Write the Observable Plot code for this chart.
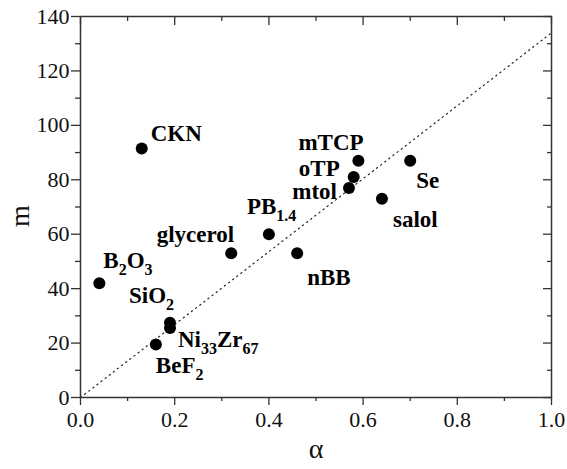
<!DOCTYPE html>
<html>
<head>
<meta charset="utf-8">
<script src="https://cdn.jsdelivr.net/npm/d3@7"></script>
<script src="https://cdn.jsdelivr.net/npm/@observablehq/plot@0.6"></script>
<style>
  html, body { margin: 0; padding: 0; background: #fff; }
  #chart svg { display: block; }
</style>
</head>
<body>
<div id="chart"></div>
<script>
// Data
const names = ["CKN", "B{2}O{3}", "SiO{2}", "Ni{33}Zr{67}", "BeF{2}", "glycerol", "PB{1.4}", "nBB", "mtol", "oTP", "mTCP", "Se", "salol"];
const alpha = [0.13, 0.04, 0.19, 0.19, 0.16, 0.32, 0.40, 0.46, 0.57, 0.58, 0.59, 0.70, 0.64];
const mVals = [91.5, 42, 27.5, 25.5, 19.5, 53, 60, 53, 77, 81, 87, 87, 73];
const lineAlpha = [0, 1];
const lineM = [0, 134];
const xMajor = [0, 0.2, 0.4, 0.6, 0.8, 1.0];
const xMinor = [0.1, 0.3, 0.5, 0.7, 0.9];
const yMajor = [0, 20, 40, 60, 80, 100, 120, 140];
const yMinor = [10, 30, 50, 70, 90, 110, 130];
const xLabel = "α";
const yLabel = "m";

const pts = names.map((n, i) => ({name: n, a: alpha[i], m: mVals[i]}));
const fit = lineAlpha.map((a, i) => ({a, m: lineM[i]}));

const FONT = "'Liberation Serif', 'Times New Roman', serif";

// label placement (layout, in pixels)
const place = {
  "CKN": {dx: 9, dy: -15, anchor: "start"},
  "B{2}O{3}": {dx: 4, dy: -23, anchor: "start"},
  "SiO{2}": {dx: -41, dy: -27, anchor: "start"},
  "Ni{33}Zr{67}": {dx: 8, dy: 12, anchor: "start"},
  "BeF{2}": {dx: 0, dy: 21, anchor: "start"},
  "glycerol": {dx: 3, dy: -19, anchor: "end"},
  "PB{1.4}": {dx: -22, dy: -28, anchor: "start"},
  "nBB": {dx: 10, dy: 24, anchor: "start"},
  "mtol": {dx: -12, dy: 4, anchor: "end"},
  "oTP": {dx: -14, dy: -8, anchor: "end"},
  "mTCP": {dx: -60, dy: -18, anchor: "start"},
  "Se": {dx: 6, dy: 20, anchor: "start"},
  "salol": {dx: 11, dy: 21, anchor: "start"}
};

const labelMarks = pts.map(p => Plot.text([p], {
  x: "a", y: "m", text: "name",
  dx: place[p.name].dx, dy: place[p.name].dy,
  textAnchor: place[p.name].anchor,
  fontWeight: "bold", fontSize: 23, fontFamily: FONT, fill: "#000",
  className: "lbl"
}));

const fmt = d3.format(".1f");
const axisColor = "#333";
const blank = () => "";

const chart = Plot.plot({
  width: 567,
  height: 469,
  marginLeft: 80,
  marginRight: 16,
  marginTop: 16,
  marginBottom: 72,
  x: {domain: [0, 1]},
  y: {domain: [0, 140]},
  style: {fontFamily: FONT, fontSize: "22px", color: "#111", background: "#fff"},
  marks: [
    Plot.line(fit, {x: "a", y: "m", stroke: "#222", strokeWidth: 1.2, strokeDasharray: "1.2,4"}),
    Plot.axisX(xMajor, {anchor: "bottom", tickSize: 8, tickPadding: 6, tickFormat: fmt, stroke: axisColor, strokeWidth: 1.3,
      label: null, fontSize: 22, fontFamily: FONT, fill: "#111"}),
    Plot.axisX(xMinor, {anchor: "bottom", tickSize: 4, tickFormat: blank, stroke: axisColor, strokeWidth: 1.3, label: null}),
    Plot.axisX(xMajor, {anchor: "top", tickSize: -8, tickFormat: blank, stroke: axisColor, strokeWidth: 1.3, label: null}),
    Plot.axisX(xMinor, {anchor: "top", tickSize: -4, tickFormat: blank, stroke: axisColor, strokeWidth: 1.3, label: null}),
    Plot.axisY(yMajor, {anchor: "left", tickSize: 9, tickPadding: 2, stroke: axisColor, strokeWidth: 1.3,
      label: null, fontSize: 22, fontFamily: FONT, fill: "#111"}),
    Plot.axisY(yMinor, {anchor: "left", tickSize: 5, tickFormat: blank, stroke: axisColor, strokeWidth: 1.3, label: null}),
    Plot.axisY(yMajor, {anchor: "right", tickSize: -9, tickFormat: blank, stroke: axisColor, strokeWidth: 1.3, label: null}),
    Plot.axisY(yMinor, {anchor: "right", tickSize: -5, tickFormat: blank, stroke: axisColor, strokeWidth: 1.3, label: null}),
    Plot.frame({stroke: axisColor, strokeWidth: 1.5}),
    Plot.text([xLabel], {frameAnchor: "bottom", dy: 60, fontSize: 28, fontFamily: FONT, fill: "#111"}),
    Plot.text([yLabel], {frameAnchor: "left", dx: -60, dy: 20, rotate: -90, fontSize: 28, fontFamily: FONT, fill: "#111"}),
    Plot.dot(pts, {x: "a", y: "m", r: 6, fill: "#000", stroke: "none"}),
    ...labelMarks
  ]
});

document.getElementById("chart").appendChild(chart);

// Turn "X{sub}" markup into real subscripts
d3.select(chart).selectAll(".lbl text").each(function() {
  const raw = this.textContent;
  const parts = raw.split(/(\{[^}]*\})/).filter(s => s.length);
  const el = d3.select(this);
  el.text(null);
  let shifted = false;
  parts.forEach(part => {
    const sub = part.startsWith("{");
    const t = el.append("tspan").text(sub ? part.slice(1, -1) : part);
    if (sub) {
      t.attr("font-size", 16);
      if (!shifted) t.attr("dy", 7);
      shifted = true;
    } else if (shifted) {
      t.attr("dy", -7);
      shifted = false;
    }
  });
});
</script>
</body>
</html>
